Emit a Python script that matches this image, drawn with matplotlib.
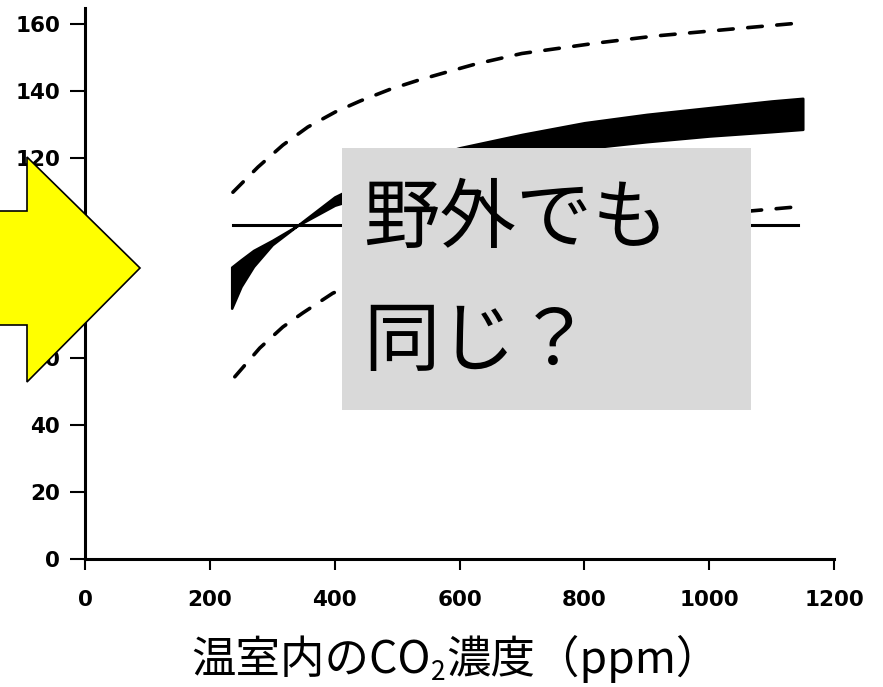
import matplotlib
matplotlib.use("Agg")
import matplotlib.pyplot as plt
from matplotlib.patches import Polygon, Rectangle

plt.rcParams["lines.scale_dashes"] = False

# ---- data -------------------------------------------------------------
# shaded band: two edges that cross at the ambient CO2 level
co2_band = [235, 250, 270, 300, 340, 400, 500, 600, 700, 800, 900, 1000, 1100, 1150]
band_steep = [75.0, 81.5, 87.5, 94.0, 99.7, 108.3, 117.5, 123.0, 127.0, 130.5, 133.0, 135.0, 137.0, 137.8]
band_flat = [87.3, 89.5, 92.3, 95.3, 99.7, 105.8, 111.5, 116.5, 120.0, 122.8, 124.8, 126.5, 127.8, 128.5]

# upper dashed limit
co2_upper = [237, 277, 317, 357, 401, 441, 489, 534, 579, 625, 700, 819, 912, 1054, 1138]
upper = [109.7, 117.2, 123.8, 129.2, 133.7, 137.0, 140.5, 143.2, 145.6, 148.0, 151.2, 154.3, 156.4, 158.8, 160.2]

# lower dashed limit
co2_lower = [240, 280, 317, 349, 397, 500, 600, 700, 800, 900, 1000, 1103, 1139]
lower = [54.5, 63.1, 69.4, 73.6, 79.5, 87.5, 92.3, 96.0, 99.0, 101.2, 103.0, 104.7, 105.3]

# reference level
co2_ref = [237, 1142]
ref = [100, 100]

x_ticks = [0, 200, 400, 600, 800, 1000, 1200]
y_ticks = [0, 20, 40, 60, 80, 100, 120, 140, 160]

xlabel_main = "温室内のCO"
xlabel_sub = "2"
xlabel_tail = "濃度（ppm）"
callout = ["野外でも", "同じ？"]

# ---- figure -----------------------------------------------------------
W, H = 883, 687
fig = plt.figure(figsize=(W / 100, H / 100), dpi=100)
fig.patch.set_facecolor("white")


def fx(x):
    return x / W


def fy(y):
    return 1 - y / H


ax = fig.add_axes([fx(85), fy(559), 749 / W, 551 / H])
ax.set_xlim(0, 1200)
ax.set_ylim(0, 164.8)

ax.fill_between(co2_band, band_steep, band_flat, facecolor="black",
                edgecolor="black", linewidth=1.8, joinstyle="round",
                capstyle="round")
ax.plot(co2_upper, upper, color="black", lw=2.6, linestyle=(0, (10.5, 10.5)),
        solid_capstyle="round", dash_capstyle="round")
ax.plot(co2_lower, lower, color="black", lw=2.6, linestyle=(0, (10.5, 10.5)),
        solid_capstyle="round", dash_capstyle="round")
ax.plot(co2_ref, ref, color="black", lw=2.2)

for side in ("top", "right"):
    ax.spines[side].set_visible(False)
for side in ("left", "bottom"):
    ax.spines[side].set_linewidth(2.2)

tick_font = dict(family="DejaVu Sans", weight="bold", size=15.5)
ax.set_xticks(x_ticks)
ax.set_yticks(y_ticks)
ax.set_xticklabels([str(v) for v in x_ticks], fontdict=tick_font)
ax.set_yticklabels([str(v) for v in y_ticks], fontdict=tick_font)
ax.tick_params(axis="x", direction="out", length=8, width=1.5, pad=14)
ax.tick_params(axis="y", direction="out", length=10.8, width=1.5, pad=7)

# ---- overlays ---------------------------------------------------------
arrow_px = [(-5, 211), (27, 211), (27, 157), (140, 268), (27, 382), (27, 325), (-5, 325)]
fig.add_artist(Polygon([(fx(x), fy(y)) for x, y in arrow_px], closed=True,
                       transform=fig.transFigure, facecolor="#FFFF00",
                       edgecolor="black", linewidth=1.2, zorder=5))

fig.add_artist(Rectangle((fx(342), fy(410)), (751 - 342) / W, (410 - 148) / H,
                         transform=fig.transFigure, facecolor="#D9D9D9",
                         edgecolor="none", zorder=4))

cjk = ["Noto Sans CJK JP", "DejaVu Sans"]
fig.text(fx(363), fy(242), callout[0], fontsize=55, family=cjk,
         va="baseline", ha="left", zorder=6)
fig.text(fx(363), fy(365), callout[1], fontsize=55, family=cjk,
         va="baseline", ha="left", zorder=6)

# axis title assembled from pieces so the subscript sits below the baseline
renderer = fig.canvas.get_renderer()
size_main, size_sub = 32, 19
t1 = fig.text(0, fy(673), xlabel_main, fontsize=size_main, family=cjk, va="baseline")
t2 = fig.text(0, fy(680), xlabel_sub, fontsize=size_sub, family=cjk, va="baseline")
t3 = fig.text(0, fy(673), xlabel_tail, fontsize=size_main, family=cjk, va="baseline")
w1 = t1.get_window_extent(renderer).width
w2 = t2.get_window_extent(renderer).width
w3 = t3.get_window_extent(renderer).width
start = 456 - (w1 + w2 + w3) / 2
t1.set_x(fx(start))
t2.set_x(fx(start + w1))
t3.set_x(fx(start + w1 + w2))

fig.savefig("out.png", dpi=100)
